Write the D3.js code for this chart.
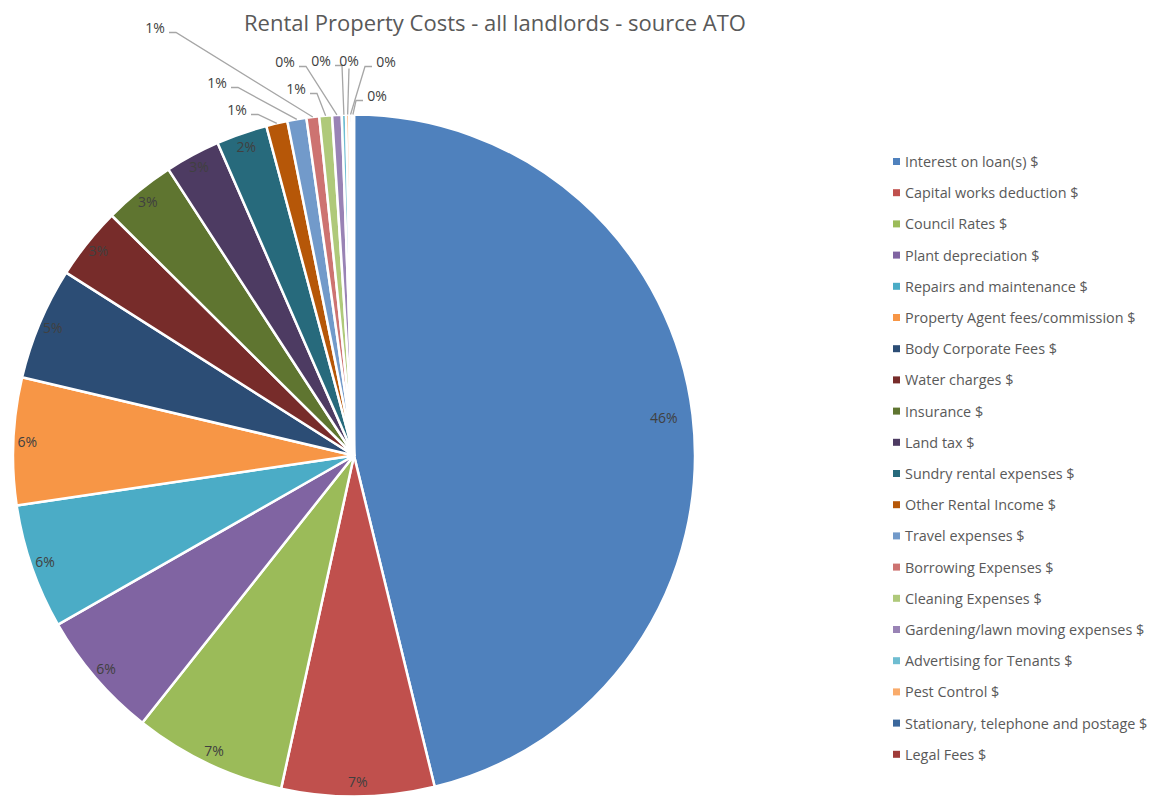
<!DOCTYPE html>
<html>
<head>
<meta charset="utf-8">
<script src="https://cdn.jsdelivr.net/npm/d3@7"></script>
<style>
  body { margin: 0; background: #fff; }
  text { font-family: "Open Sans", sans-serif; }
</style>
</head>
<body>
<script>
// categories, in the order Excel draws them (clockwise from 12 o'clock)
const categories = [
  "Interest on loan(s) $", "Capital works deduction $", "Council Rates $",
  "Plant depreciation $", "Repairs and maintenance $", "Property Agent fees/commission $",
  "Body Corporate Fees $", "Water charges $", "Insurance $", "Land tax $",
  "Sundry rental expenses $", "Other Rental Income $", "Travel expenses $",
  "Borrowing Expenses $", "Cleaning Expenses $", "Gardening/lawn moving expenses $",
  "Advertising for Tenants $", "Pest Control $", "Stationary, telephone and postage $",
  "Legal Fees $"
];

// share of total costs, %
const shares = [46.0, 7.2, 7.2, 6.05, 5.9, 6.0, 5.3, 3.4, 3.4, 2.6,
                2.4, 1.0, 0.9, 0.6, 0.6, 0.45, 0.2, 0.15, 0.12, 0.1];

const colors = ["#4F81BD", "#C0504D", "#9BBB59", "#8064A2", "#4BACC6", "#F79646",
  "#2C4D75", "#772C2A", "#5F7530", "#4D3B62", "#276A7C", "#B65708", "#729ACA",
  "#CD7371", "#AFC97A", "#9983B5", "#6FBDD1", "#F9AB6B", "#3A679C", "#9F3B38"];

// where the small slices put their labels (offset from pie centre)
const outsideLabels = {
  11: [-117, -345], 12: [-137, -372], 13: [-199, -427], 14: [-58, -366],
  15: [-69, -393], 16: [-33, -394], 17: [-5, -394], 18: [32, -393], 19: [23, -359]
};

const W = 1160, H = 796;
const cx = 354, cy = 455.5, R = 341;

const svg = d3.select("body").append("svg")
  .attr("width", W).attr("height", H);

// title
svg.append("text")
  .attr("x", 495).attr("y", 31)
  .attr("text-anchor", "middle")
  .style("font-size", "22px")
  .style("fill", "#595959")
  .text("Rental Property Costs - all landlords - source ATO");

const data = categories.map((c, i) => ({ name: c, value: shares[i], color: colors[i], i: i }));

const pie = d3.pie().sort(null).value(d => d.value);
const arcs = pie(data);
const arc = d3.arc().innerRadius(0).outerRadius(R);

const g = svg.append("g").attr("transform", "translate(" + cx + "," + cy + ")");

g.selectAll("path.slice")
  .data(arcs)
  .enter()
  .append("path")
  .attr("class", "slice")
  .attr("d", arc)
  .style("fill", d => d.data.color)
  .style("stroke", "#fff")
  .style("stroke-width", 2.5)
  .style("stroke-linejoin", "round");

const pct = d => Math.round(d.data.value) + "%";
const mid = d => (d.startAngle + d.endAngle) / 2;
const labelR = d => d.data.i === 0 ? 312 : 327;

// labels inside the larger slices, near the rim
const inside = arcs.filter(d => outsideLabels[d.data.i] === undefined);
g.selectAll("text.inl")
  .data(inside)
  .enter()
  .append("text")
  .attr("class", "inl")
  .attr("x", d => Math.sin(mid(d)) * labelR(d))
  .attr("y", d => -Math.cos(mid(d)) * labelR(d))
  .attr("dy", "0.35em")
  .attr("text-anchor", "middle")
  .style("font-size", "14px")
  .style("fill", "#404040")
  .text(pct);

// labels for the small slices, with leader lines
const outside = arcs.filter(d => outsideLabels[d.data.i] !== undefined);
outside.forEach(d => {
  const [lx, ly] = outsideLabels[d.data.i];
  const a = mid(d);
  const px = Math.sin(a) * R, py = -Math.cos(a) * R;
  let pts;
  if (Math.abs(lx - px) < 8) {
    pts = [[lx, ly + 7], [px, py]];
  } else if (lx < px) {
    pts = [[lx + 14, ly + 4], [lx + 21, ly + 4], [px, py]];
  } else {
    pts = [[lx - 14, ly + 4], [lx - 21, ly + 4], [px, py]];
  }
  g.append("path")
    .attr("d", d3.line()(pts))
    .style("fill", "none")
    .style("stroke", "#a6a6a6")
    .style("stroke-width", 1.3);
  g.append("text")
    .attr("x", lx).attr("y", ly)
    .attr("dy", "0.35em")
    .attr("text-anchor", "middle")
    .style("font-size", "14px")
    .style("fill", "#404040")
    .text(pct(d));
});

// legend
const legend = svg.append("g").attr("transform", "translate(893,162)");
const step = 31.2;
const item = legend.selectAll("g")
  .data(data)
  .enter()
  .append("g")
  .attr("transform", (d, i) => "translate(0," + (i * step) + ")");
item.append("rect")
  .attr("x", 0).attr("y", -4)
  .attr("width", 7).attr("height", 7)
  .style("fill", d => d.color);
item.append("text")
  .attr("x", 12).attr("y", 0)
  .attr("dy", "0.35em")
  .style("font-size", "14.4px")
  .style("fill", "#595959")
  .text(d => d.name);
</script>
</body>
</html>
